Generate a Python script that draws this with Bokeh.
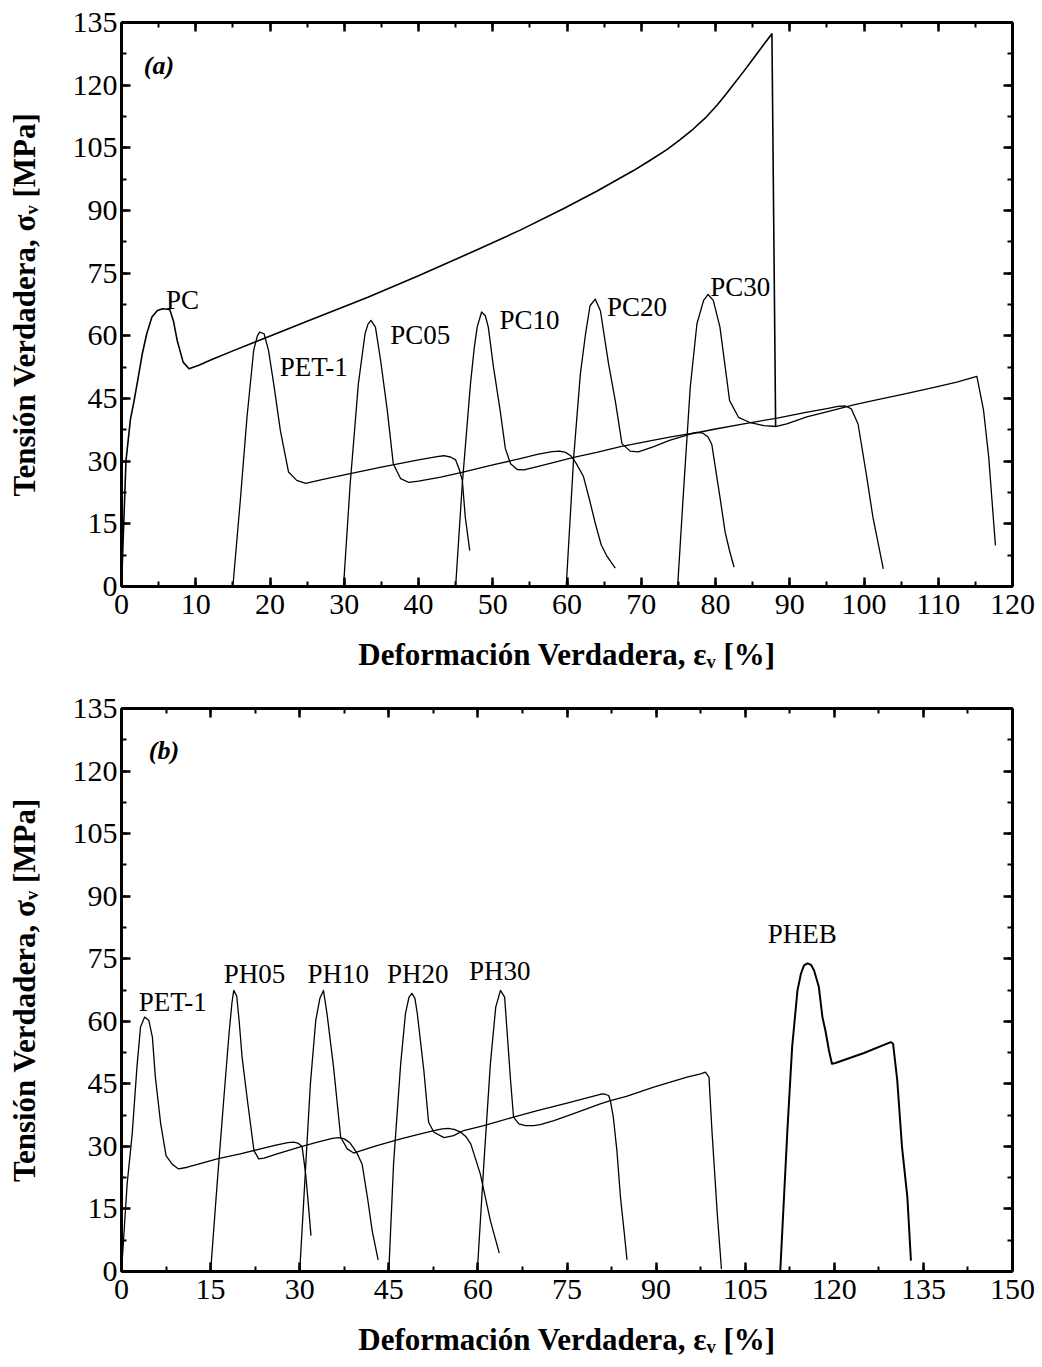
from bokeh.plotting import figure
from bokeh.models import Range1d, LinearAxis, SingleIntervalTicker, Label
from bokeh.layouts import column
from bokeh.embed import file_html
from bokeh.resources import INLINE

# ---------------- Panel (a) data ----------------
pc_x = [0, 0.3, 0.6, 1.2, 1.7, 2.1, 2.8, 3.4, 4.1, 4.8, 5.5, 6.5, 7.0, 7.5, 8.3, 9.1, 10.5, 12, 15,
        19.1, 25, 33.1, 40, 47.9, 53.7, 59.5, 64.0, 68.9, 71.0, 73.4, 75.2, 77.0, 78.6, 80.2, 81.3, 82.4,
        83.8, 85.1, 86.4, 87.6, 88.1]
pc_y = [0, 15, 30, 40, 44.5, 48.5, 55.7, 60.5, 64.5, 66.0, 66.5, 66.3, 63.5, 58.9, 53.7, 52.1, 53.0, 54.2, 56.4,
        59.3, 63.5, 69.2, 74.4, 80.6, 85.3, 90.4, 94.6, 99.5, 101.8, 104.5, 106.9, 109.5, 112.1, 115.2, 117.6,
        120.1, 123.3, 126.4, 129.5, 132.3, 38.3]

pet1a_x = [15.0, 16.0, 16.9, 17.8, 18.3, 18.6, 19.2, 19.8, 20.5, 21.4, 22.5, 23.6, 24.8, 27, 30, 35, 40,
           42.5, 43.4, 44.3, 45.0, 45.5, 45.9, 46.3, 46.9]
pet1a_y = [0, 20.6, 40.5, 56.5, 60.0, 60.9, 60.5, 56.5, 48.5, 37.3, 27.4, 25.4, 24.7, 25.6, 26.7, 28.6, 30.3,
           31.1, 31.3, 31.0, 30.3, 28.0, 25.4, 16.6, 8.6]

pc05_x = [29.9, 30.8, 31.9, 32.8, 33.2, 33.6, 34.2, 34.9, 35.8, 36.6, 37.6, 38.7, 40, 43, 46, 50, 53.7, 56,
          58.0, 59.0, 59.8, 60.5, 61.2, 62.2, 63.0, 63.8, 64.6, 65.4, 66.5]
pc05_y = [0, 24.6, 48.5, 60.5, 62.8, 63.7, 62.1, 54.1, 42.1, 29.4, 25.8, 24.9, 25.2, 26.2, 27.4, 29.1, 30.6, 31.6,
          32.3, 32.4, 32.1, 31.3, 29.6, 26.4, 21.0, 15.2, 10.0, 7.2, 4.4]

pc10_x = [45.0, 45.9, 47.0, 47.5, 47.9, 48.5, 49.0, 49.4, 50.1, 51.0, 51.7, 52.4, 53.3, 54.2, 56, 58, 60.9,
          64, 67.2, 71, 74, 76.6, 77.5, 78.3, 79.0, 79.5, 79.9, 80.6, 81.3, 81.9, 82.5]
pc10_y = [0, 24.6, 48.5, 57.0, 62.1, 65.7, 64.8, 62.1, 52.5, 42.1, 33.0, 29.4, 28.0, 27.9, 28.7, 29.6, 30.9,
          32.1, 33.5, 34.8, 35.8, 36.6, 36.9, 36.7, 35.8, 34.0, 29.4, 21.4, 13.0, 8.5, 4.6]

pc20_x = [59.9, 60.9, 61.8, 62.5, 63.1, 63.8, 64.5, 65.6, 66.5, 67.4, 68.5, 69.6, 71.6, 73.8, 76.6, 80, 84,
          88.3, 92, 95, 96.5, 97.5, 98.3, 99.2, 100.3, 101.2, 102.6]
pc20_y = [0.2, 30.9, 50.9, 60.5, 67.2, 68.8, 66.0, 53.3, 44.5, 34.2, 32.4, 32.2, 33.4, 35.0, 36.5, 37.7, 39.0,
          40.3, 41.6, 42.6, 43.1, 43.2, 42.5, 38.9, 27.0, 16.6, 4.2]

pc30_x = [74.9, 75.7, 76.6, 77.5, 78.4, 79.0, 79.7, 80.6, 81.9, 83.1, 84.7, 86.5, 88.2, 89.6, 92.3, 95.9, 98.6,
          102, 105.5, 109.3, 112.5, 115.2, 116.1, 116.8, 117.7]
pc30_y = [0, 23.0, 47.7, 62.9, 68.5, 69.9, 68.5, 62.1, 44.5, 40.5, 39.2, 38.5, 38.3, 38.9, 40.6, 42.2, 43.5,
          44.8, 46.1, 47.6, 48.9, 50.3, 42.2, 30.9, 9.8]

a_names = ["PC", "PET-1", "PC05", "PC10", "PC20", "PC30"]
a_lab_x = [6.0, 21.3, 36.2, 50.9, 65.4, 79.3]
a_lab_y = [68.5, 52.5, 60.1, 63.7, 67.0, 71.6]

# ---------------- Panel (b) data ----------------
pet1b_x = [0, 0.95, 1.8, 2.6, 3.2, 3.9, 4.6, 5.2, 5.7, 6.6, 7.5, 8.5, 9.6, 11.1, 16.1, 20, 23.4, 26, 28.0,
           29.0, 29.8, 30.4, 31.0, 31.4, 31.9]
pet1b_y = [0, 21, 33.0, 49.0, 58.6, 61.0, 60.2, 56.2, 46.6, 35.4, 27.8, 25.8, 24.6, 25.0, 27.0, 28.2, 29.4,
           30.3, 30.9, 31.0, 30.7, 30.0, 23.4, 17.0, 8.6]

ph05_x = [15.0, 16.1, 17.2, 18.1, 18.6, 18.9, 19.4, 19.8, 20.3, 21.2, 22.3, 23.1, 24.0, 26.2, 30.1, 33, 35.5,
          36.6, 37.5, 38.5, 39.6, 40.5, 41.4, 42.2, 43.2]
ph05_y = [0, 21.0, 41.0, 57.0, 64.5, 67.4, 66.0, 60.2, 51.4, 41.0, 29.0, 27.0, 27.2, 28.2, 29.9, 31.0, 31.9,
          32.1, 31.8, 30.8, 28.5, 25.8, 17.8, 9.8, 2.8]

ph10_x = [30.0, 31.0, 31.8, 32.7, 33.4, 34.0, 34.6, 35.7, 36.9, 38.0, 39.1, 40.2, 43, 47.0, 50, 52.6, 54.0,
          55.0, 56.0, 57.1, 58.0, 58.8, 60.4, 62.1, 63.6]
ph10_y = [0, 25.0, 45.0, 60.2, 65.5, 67.4, 61.8, 49.0, 32.2, 29.4, 28.4, 28.9, 30.2, 31.8, 32.9, 33.8, 34.2,
          34.3, 34.1, 33.4, 32.3, 30.6, 23.4, 12.2, 4.4]

ph20_x = [45.0, 45.8, 47.0, 47.8, 48.4, 48.9, 49.4, 49.8, 50.9, 51.7, 52.6, 54.3, 55.9, 57.6, 61.0, 66.0, 70,
          75, 79, 80.6, 81.2, 82.0, 82.3, 82.8, 83.4, 84.0, 84.6, 85.1]
ph20_y = [0, 25.8, 49.8, 61.8, 65.8, 66.7, 65.5, 61.8, 48.2, 35.8, 33.4, 32.1, 32.6, 33.8, 35.0, 37.0, 38.6,
          40.4, 41.9, 42.5, 42.6, 42.2, 41.0, 37.0, 29.0, 17.8, 9.8, 2.8]

ph30_x = [59.9, 61.0, 62.1, 63.0, 63.8, 64.5, 64.9, 65.5, 66.0, 66.9, 68, 69.4, 70.5, 72.8, 76, 80.6, 82.3,
          85, 89.6, 95.2, 97.5, 98.3, 98.9, 99.4, 100.3, 101.0]
ph30_y = [0, 25.8, 49.8, 63.4, 67.4, 65.8, 57.8, 45.8, 37.0, 35.4, 35.0, 35.0, 35.2, 36.2, 37.8, 40.2, 41.0,
          42.0, 44.2, 46.6, 47.4, 47.8, 46.6, 33.8, 13.8, 0.6]

pheb_x = [110.9, 112.1, 112.9, 113.8, 114.4, 114.9, 115.5, 116.1, 116.6, 117.4, 118.0, 118.5, 119.1, 119.6,
          120.2, 125, 129.5, 129.9, 130.6, 131.4, 132.3, 132.9]
pheb_y = [0, 33.8, 53.8, 67.4, 71.5, 73.4, 73.9, 73.5, 72.2, 68.2, 61.0, 57.8, 53.0, 49.8, 50.0, 52.4, 55.0,
          54.6, 45.8, 29.8, 17.8, 2.6]

b_names = ["PET-1", "PH05", "PH10", "PH20", "PH30", "PHEB"]
b_lab_x = [2.9, 17.2, 31.3, 44.7, 58.5, 108.8]
b_lab_y = [64.6, 71.4, 71.4, 71.4, 72.0, 81.0]

X_LABEL = "Deformación Verdadera, εᵥ [%]"
Y_LABEL = "Tensión Verdadera, σᵥ [MPa]"

SERIF = "Liberation Serif"


def style_axis(ax, interval, show_labels, tick_standoff=5, label_standoff=20):
    ax.ticker = SingleIntervalTicker(interval=interval, num_minor_ticks=2)
    ax.axis_line_width = 3
    ax.axis_line_color = "black"
    ax.major_tick_in = 9
    ax.major_tick_out = 0
    ax.minor_tick_in = 5
    ax.minor_tick_out = 0
    ax.major_tick_line_width = 2.5
    ax.minor_tick_line_width = 2
    ax.major_tick_line_color = "black"
    ax.minor_tick_line_color = "black"
    if show_labels:
        ax.major_label_text_font = SERIF
        ax.major_label_text_font_size = "30px"
        ax.major_label_text_color = "black"
        ax.major_label_standoff = tick_standoff
        ax.axis_label_text_font = SERIF
        ax.axis_label_text_font_size = "31px"
        ax.axis_label_text_font_style = "bold"
        ax.axis_label_text_color = "black"
        ax.axis_label_standoff = label_standoff
    else:
        ax.major_label_text_font_size = "0px"
        ax.major_label_standoff = 0
        ax.major_label_text_color = None


def make_panel(xmax, xint, height, top, bottom, curves, names, lx, ly, tag, tag_x, tag_y):
    p = figure(width=1040, height=height, x_range=Range1d(0, xmax), y_range=Range1d(0, 135),
               output_backend="svg", toolbar_location=None,
               min_border_left=121, min_border_right=28, min_border_top=top, min_border_bottom=bottom)
    p.xgrid.visible = False
    p.ygrid.visible = False
    p.outline_line_color = None
    p.background_fill_color = "white"
    p.border_fill_color = "white"

    style_axis(p.below[0], xint, True, 8, 20)
    style_axis(p.left[0], 15, True, 4, 28)
    p.below[0].axis_label = X_LABEL
    p.left[0].axis_label = Y_LABEL

    top_ax = LinearAxis()
    style_axis(top_ax, xint, False)
    p.add_layout(top_ax, "above")
    right_ax = LinearAxis()
    style_axis(right_ax, 15, False)
    p.add_layout(right_ax, "right")

    for xs, ys, lw in curves:
        p.line(xs, ys, line_color="black", line_width=lw, line_join="round")

    for name, x, y in zip(names, lx, ly):
        p.add_layout(Label(x=x, y=y, text=name, text_font=SERIF, text_font_size="27px",
                           text_color="black", text_baseline="alphabetic", text_align="left"))
    p.add_layout(Label(x=tag_x, y=tag_y, text=tag, text_font=SERIF, text_font_size="26px",
                       text_font_style="bold italic", text_color="black",
                       text_baseline="alphabetic", text_align="left"))
    return p


pa = make_panel(120, 10, 690, 22, 104,
                [(pc_x, pc_y, 1.6), (pet1a_x, pet1a_y, 1.3), (pc05_x, pc05_y, 1.3),
                 (pc10_x, pc10_y, 1.3), (pc20_x, pc20_y, 1.3), (pc30_x, pc30_y, 1.3)],
                a_names, a_lab_x, a_lab_y, "(a)", 3.0, 124.7)

pb = make_panel(150, 15, 676, 18, 95,
                [(pet1b_x, pet1b_y, 1.3), (ph05_x, ph05_y, 1.3), (ph10_x, ph10_y, 1.3),
                 (ph20_x, ph20_y, 1.3), (ph30_x, ph30_y, 1.3), (pheb_x, pheb_y, 2.0)],
                b_names, b_lab_x, b_lab_y, "(b)", 4.6, 124.9)

layout = column(pa, pb)
open("out.html", "w").write(file_html(layout, INLINE))
